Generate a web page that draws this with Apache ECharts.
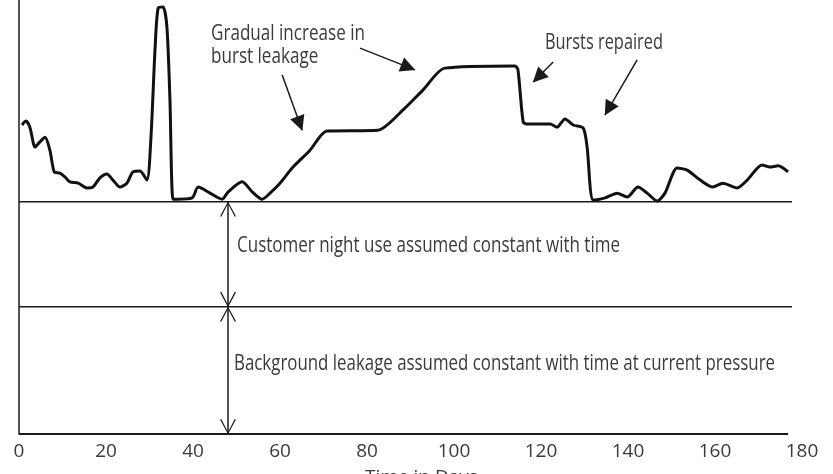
<!DOCTYPE html>
<html>
<head>
<meta charset="utf-8">
<script src="https://cdn.jsdelivr.net/npm/echarts@6/dist/echarts.min.js"></script>
<style>
  html, body { margin: 0; padding: 0; background: #fff; }
  #chart { width: 833px; height: 474px; }
</style>
</head>
<body>
<div id="chart"></div>
<script>
// 时间（天）
var days = [0.7, 1.6, 2.5, 3.7, 4.8, 6.0, 7.1, 8.1, 9.4, 10.6, 11.7, 13.6, 15.6, 17.0, 18.6, 20.2, 21.6, 23.2, 24.8, 26.2,
  27.8, 29.4, 30.3, 31.3, 32.0, 33.1, 34.0, 34.7, 35.4, 36.3, 39.8, 41.2, 43.9, 46.7, 48.1, 51.3, 53.6, 55.9, 57.7, 60.0,
  63.0, 66.9, 70.8, 82.5, 88.3, 92.9, 97.9, 114.0, 114.7, 115.9, 116.8, 122.1, 123.7, 125.5, 127.4, 129.7, 130.6, 132.0,
  134.7, 137.5, 139.8, 142.3, 144.4, 146.7, 148.5, 151.3, 153.6, 156.6, 159.5, 161.8, 165.1, 167.4, 170.8, 172.6, 174.5, 176.8];
// 夜间最小流量
var nightFlow = [71.2, 72.1, 70.7, 66.1, 67.3, 68.4, 65.4, 60.4, 60.1, 59.2, 58.1, 57.8, 56.7, 56.9, 59.0, 59.9, 58.5, 56.9, 57.8, 60.4,
  60.6, 58.5, 67.7, 89.2, 98.2, 98.4, 93.8, 77.0, 54.1, 54.1, 54.4, 56.9, 55.5, 54.1, 55.8, 58.1, 55.8, 54.1, 55.5, 57.8,
  61.5, 65.4, 69.8, 70.0, 74.7, 79.3, 84.3, 84.8, 83.9, 71.9, 71.4, 71.4, 70.7, 72.6, 71.2, 70.5, 66.1, 53.9,
  54.4, 55.5, 54.6, 56.9, 55.5, 53.7, 55.5, 61.3, 60.8, 58.5, 56.9, 57.8, 56.7, 58.5, 62.0, 61.5, 61.8, 60.4];
// 刻度
var xTicks = [0, 20, 40, 60, 80, 100, 120, 140, 160, 180];
// 用水量水平线
var customerLevel = 53.5;
var backgroundLevel = 29.3;
var levelEnd = 177.7;
var axisEnd = 176.8;
var arrowDay = 48.05;
// 注释箭头 [起点, 终点]
var noteArrows = [
  [[60.5, 82.7], [65.1, 70.0]],
  [[78.4, 88.9], [91.0, 83.9]],
  [[122.8, 85.7], [118.2, 81.1]],
  [[142.1, 86.2], [134.7, 73.5]]
];

var font = '"Open Sans", "Noto Sans", sans-serif';
var ink = '#1a1a1a';
var textInk = '#3a3a3a';
//开口箭头，尖端放在图形中心
var chevron = 'path://M0,0 M20,0 M10,10 L15.3,20 L14.5,20.4 L10,11.6 L5.5,20.4 L4.7,20 Z';

//压窄文字，模拟窄体字
var measureCtx = document.createElement('canvas').getContext('2d');
function noteText(text, left, top, width) {
  var lines = text.split('\n');
  measureCtx.font = '21px ' + font;
  var w = Math.max.apply(null, lines.map(function (l) { return measureCtx.measureText(l).width; }));
  return {
    type: 'text',
    x: left,
    y: top,
    scaleX: width / w,
    style: { text: text, fill: textInk, font: '21px ' + font, lineHeight: 23 }
  };
}

var chart = echarts.init(document.getElementById('chart'));

var flowData = days.map(function (d, i) { return [d, nightFlow[i]]; });

var arrowLines = noteArrows.map(function (a) {
  return [{ coord: a[0], symbol: 'none' }, { coord: a[1], symbol: 'triangle', symbolSize: 15, symbolOffset: [0, 7] }];
});

chart.setOption({
  animation: false,
  grid: { left: 19, right: 31, top: 0, bottom: 40, outerBoundsMode: 'none', containLabel: false },
  xAxis: {
    type: 'value',
    min: 0,
    max: 180,
    interval: 20,
    axisLine: { show: false },
    axisTick: { show: false },
    splitLine: { show: false },
    axisLabel: {
      color: textInk,
      fontFamily: font,
      fontSize: 19,
      margin: 8,
      customValues: xTicks
    },
    name: 'Time in Days',
    nameLocation: 'middle',
    nameGap: 34,
    nameTextStyle: { color: textInk, fontFamily: font, fontSize: 19, padding: [0, 0, 0, 22] }
  },
  yAxis: {
    type: 'value',
    min: 0,
    max: 100,
    axisLine: { show: true, lineStyle: { color: ink, width: 1.5 } },
    axisTick: { show: false },
    axisLabel: { show: false },
    splitLine: { show: false }
  },
  graphic: [
    noteText('Gradual increase in\nburst leakage', 211, 23, 154),
    noteText('Bursts repaired', 545, 32, 118),
    noteText('Customer night use assumed constant with time', 237, 235, 383),
    noteText('Background leakage assumed constant with time at current pressure', 234, 353, 541)
  ],
  series: [
    {
      name: 'Customer night use',
      type: 'line',
      data: [[0, customerLevel], [levelEnd, customerLevel]],
      symbol: 'none',
      clip: false,
      lineStyle: { color: ink, width: 1.5 },
      markLine: {
        silent: true,
        animation: false,
        label: { show: false },
        lineStyle: { color: ink, width: 1.5, type: 'solid' },
        symbol: [chevron, chevron],
        symbolSize: 30,
        data: [
          [{ coord: [arrowDay, customerLevel] }, { coord: [arrowDay, backgroundLevel] }],
          [{ coord: [arrowDay, backgroundLevel] }, { coord: [arrowDay, 0] }]
        ]
      }
    },
    {
      name: 'Background leakage',
      type: 'line',
      data: [[0, backgroundLevel], [levelEnd, backgroundLevel]],
      symbol: 'none',
      clip: false,
      lineStyle: { color: ink, width: 1.5 }
    },
    {
      name: 'Axis',
      type: 'line',
      data: [[0, 0], [axisEnd, 0]],
      symbol: 'none',
      clip: false,
      lineStyle: { color: ink, width: 2 },
      markLine: {
        silent: true,
        animation: false,
        label: { show: false },
        lineStyle: { color: ink, width: 1.5, type: 'solid' },
        data: arrowLines
      }
    },
    {
      name: 'Night flow',
      type: 'line',
      data: flowData,
      symbol: 'none',
      smooth: 0.25,
      clip: false,
      lineStyle: { color: '#111', width: 3 }
    }
  ]
});

window.addEventListener('resize', function () { chart.resize(); });
</script>
</body>
</html>
